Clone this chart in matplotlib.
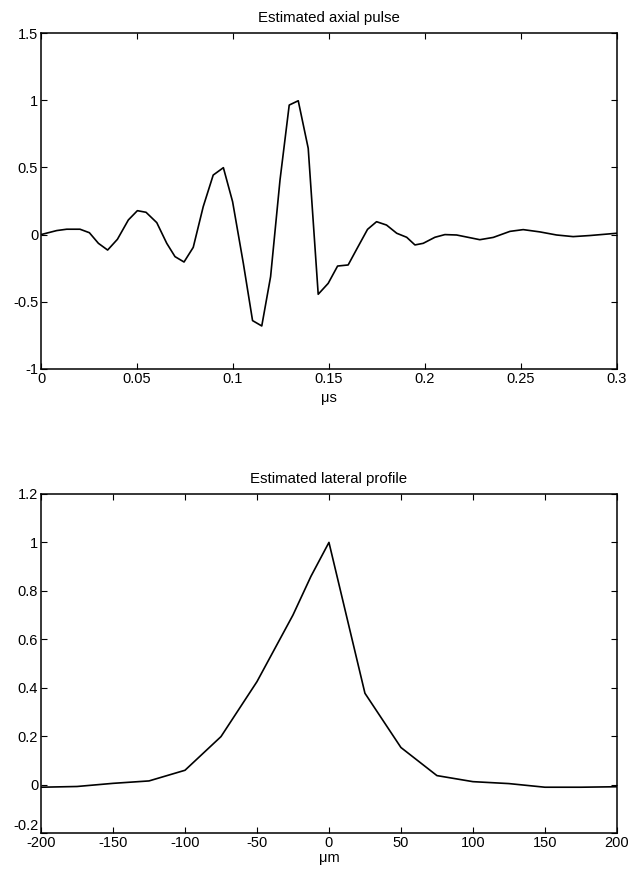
import matplotlib
matplotlib.use("Agg")
import matplotlib.pyplot as plt

plt.rcParams['font.family'] = ['Liberation Sans', 'DejaVu Sans']

# axial pulse (time in us, normalised amplitude)
pulse_t = [0.0, 0.0082, 0.0134, 0.0203, 0.0252, 0.0299, 0.0347, 0.0398, 0.0455,
           0.0502, 0.0547, 0.0603, 0.0655, 0.0698, 0.0745, 0.0793, 0.0845, 0.0897,
           0.095, 0.0998, 0.1054, 0.1102, 0.115, 0.1196, 0.1245, 0.1293, 0.134,
           0.1392, 0.1444, 0.1496, 0.1545, 0.16, 0.1647, 0.1701, 0.1748, 0.18,
           0.1853, 0.1905, 0.1948, 0.1991, 0.2052, 0.2104, 0.2165, 0.2217, 0.2286,
           0.2356, 0.2443, 0.2512, 0.2599, 0.2686, 0.2772, 0.2859, 0.3]
pulse_v = [0.0, 0.03, 0.04, 0.04, 0.014, -0.065, -0.115, -0.035, 0.109,
           0.178, 0.166, 0.089, -0.065, -0.164, -0.204, -0.095, 0.208, 0.443,
           0.498, 0.245, -0.214, -0.64, -0.68, -0.313, 0.406, 0.964, 0.996,
           0.642, -0.444, -0.363, -0.234, -0.226, -0.102, 0.039, 0.096, 0.071,
           0.01, -0.02, -0.077, -0.065, -0.02, 0.0, -0.003, -0.018, -0.038,
           -0.021, 0.024, 0.037, 0.02, -0.003, -0.015, -0.007, 0.01]

# lateral profile (position in um)
lat_x = [-200, -175, -150, -125, -100, -75, -50, -25, -12.5, 0, 25, 50, 75,
         100, 125, 150, 175, 200]
lat_v = [-0.011, -0.008, 0.005, 0.015, 0.059, 0.198, 0.425, 0.70, 0.86, 1.0,
         0.377, 0.153, 0.037, 0.012, 0.004, -0.011, -0.011, -0.009]

pulse_xticks = [0, 0.05, 0.1, 0.15, 0.2, 0.25, 0.3]
pulse_xlabels = ['0', '0.05', '0.1', '0.15', '0.2', '0.25', '0.3']
pulse_yticks = [-1, -0.5, 0, 0.5, 1, 1.5]
pulse_ylabels = ['-1', '-0.5', '0', '0.5', '1', '1.5']
lat_xticks = [-200, -150, -100, -50, 0, 50, 100, 150, 200]
lat_xlabels = ['-200', '-150', '-100', '-50', '0', '50', '100', '150', '200']
lat_yticks = [-0.2, 0, 0.2, 0.4, 0.6, 0.8, 1, 1.2]
lat_ylabels = ['-0.2', '0', '0.2', '0.4', '0.6', '0.8', '1', '1.2']

fig = plt.figure(figsize=(6.34, 8.76), dpi=100)
ax1 = fig.add_axes([0.0647, 0.5788, 0.9083, 0.3835])
ax2 = fig.add_axes([0.0647, 0.0491, 0.9083, 0.3870])


def style(ax, xt, xl, yt, yl):
    ax.set_xticks(xt)
    ax.set_xticklabels(xl)
    ax.set_yticks(yt)
    ax.set_yticklabels(yl)
    ax.tick_params(direction='in', top=True, right=True, length=4,
                   width=0.8, labelsize=10.5)
    ax.tick_params(axis='x', pad=2)
    ax.tick_params(axis='y', pad=2)
    for s in ax.spines.values():
        s.set_linewidth(1.1)


ax1.plot(pulse_t, pulse_v, color='black', lw=1.2)
ax1.set_xlim(0, 0.3)
ax1.set_ylim(-1, 1.5)
style(ax1, pulse_xticks, pulse_xlabels, pulse_yticks, pulse_ylabels)
ax1.set_title('Estimated axial pulse', fontsize=10.8, pad=8)
ax1.set_xlabel('\u03bcs', fontsize=10.5, labelpad=4)

ax2.plot(lat_x, lat_v, color='black', lw=1.2)
ax2.set_xlim(-200, 200)
ax2.set_ylim(-0.2, 1.2)
style(ax2, lat_xticks, lat_xlabels, lat_yticks, lat_ylabels)
# lift the bottom y label a touch so it sits just above "-200" as in the source
ax2.get_yticklabels()[0].set_va('bottom')
ax2.set_title('Estimated lateral profile', fontsize=10.8, pad=8)
ax2.set_xlabel('\u03bcm', fontsize=10.5, labelpad=1)

fig.savefig('out.png', dpi=100)
